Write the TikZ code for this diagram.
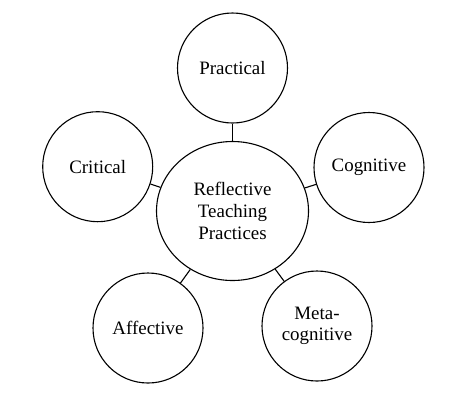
\documentclass[tikz,border=0pt]{standalone}
\usepackage{fontspec}
\setmainfont{Liberation Serif}
\usetikzlibrary{shapes.geometric}
\begin{document}
\begin{tikzpicture}[x=1bp,y=-1bp,
  every node/.style={font=\fontsize{19}{21.7}\selectfont, align=center, inner sep=0pt},
  outer/.style={circle, draw, line width=1.1bp, minimum size=110bp},
  hub/.style={ellipse, draw, line width=1.1bp, minimum width=152bp, minimum height=139bp},
  link/.style={line width=1.1bp}]
\useasboundingbox (0,0) rectangle (466,397);
\node[hub] (c) at (232.5,211) {Reflective\\Teaching\\Practices};
\node[outer] (p) at (232.5,68) {Practical};
\node[outer] (cr) at (97.7,166.7) {Critical};
\node[outer] (co) at (369,167.5) {Cognitive};
\node[outer] (a) at (148,328) {Affective};
\node[outer] (m) at (317,326) {Meta-\\cognitive};
\draw[link] (c) -- (p);
\draw[link] (c) -- (cr);
\draw[link] (c) -- (co);
\draw[link] (c) -- (a);
\draw[link] (c) -- (m);
\end{tikzpicture}
\end{document}
